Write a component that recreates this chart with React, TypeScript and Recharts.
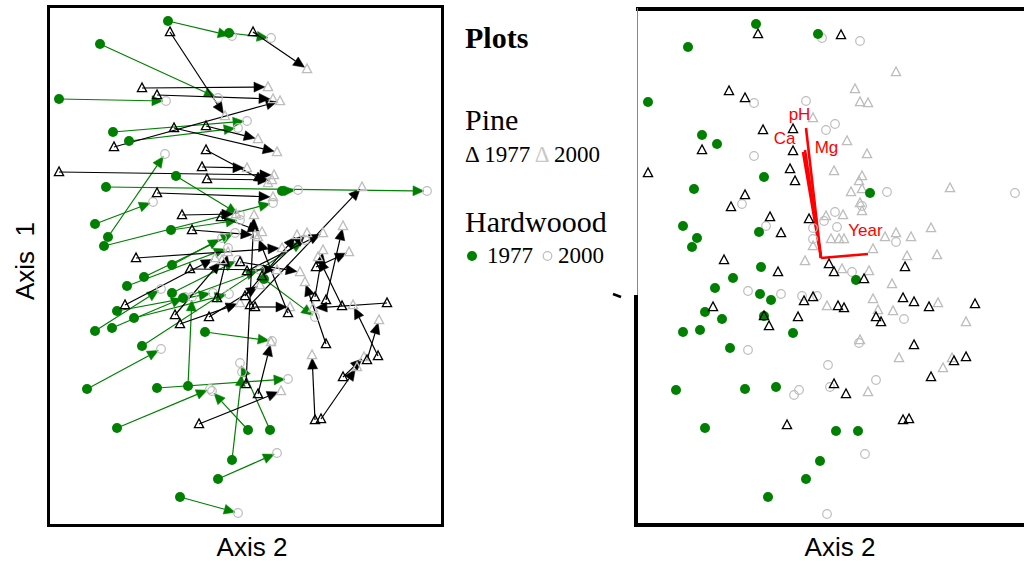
import React from 'react';
import { ScatterChart, Scatter, XAxis, YAxis, ReferenceLine, ReferenceDot } from 'recharts';

// ---------- Left panel: plot scores, 1977 -> 2000 (Axis 2, Axis 1) ----------
const pine1977Left: [number, number][] = [[-0.75,2.33],[0.08,2.33],[-1.03,1.77],[-0.88,1.70],[-1.31,1.18],[-0.71,1.37],[-0.39,1.39],[-1.86,0.93],[-0.43,0.98],[-0.39,1.15],[-0.38,0.86],[-0.88,0.72],[-0.63,0.50],[-0.24,0.48],[-0.53,0.35],[-1.09,0.07],[-0.55,-0.04],[-0.05,0.03],[-1.20,-0.40],[-0.70,-0.50],[-0.65,-0.59],[-0.36,-0.52],[0.01,-1.19],[-0.46,-1.59],[0.13,-1.29],[-0.28,-0.33],[0.10,-0.42],[0.81,-0.35],[0.70,-0.32],[0.97,-0.41],[1.42,-0.38],[1.33,-0.91],[1.22,-0.95],[0.81,-0.79],[0.98,-1.12],[0.70,-1.55],[0.76,-1.54],[0.05,-0.40],[0.02,-0.06],[0.17,-0.11],[0.00,-0.31],[0.43,-0.48],[0.71,-0.02]];
const pine2000Left: [number, number][] = [[-0.20,1.49],[0.62,1.96],[0.23,1.78],[0.28,1.66],[0.35,1.64],[0.32,1.13],[0.13,1.26],[0.29,0.90],[0.02,0.97],[0.23,0.82],[0.27,0.85],[0.28,0.68],[-0.09,0.51],[0.17,0.33],[0.10,0.30],[0.37,0.17],[0.32,-0.05],[0.55,-0.07],[-0.30,0.07],[-0.23,0.05],[-0.05,-0.38],[0.15,-0.20],[0.09,0.50],[0.36,-1.26],[0.26,-0.77],[-0.17,0.13],[0.45,-0.42],[0.98,0.39],[0.78,0.15],[0.73,0.08],[0.68,-0.43],[1.08,-0.40],[1.34,-0.55],[0.60,-0.17],[1.19,-0.92],[0.67,-0.90],[1.12,-1.02],[1.17,0.78],[0.78,0.32],[0.62,0.32],[0.52,0.30],[0.13,0.28],[1.04,0.13]];
const hard1977Left: [number, number][] = [[-0.77,2.44],[-0.16,2.32],[-1.45,2.21],[-1.86,1.66],[-1.32,1.33],[-1.16,1.24],[-1.37,0.28],[-0.69,0.89],[-1.39,0.78],[0.37,0.74],[-1.50,0.41],[-1.41,0.19],[-0.74,0.35],[-0.73,0.00],[-1.18,-0.21],[-1.01,-0.12],[-0.73,-0.28],[-0.62,-0.33],[-1.28,-0.46],[-1.11,-0.53],[-1.50,-0.66],[-1.33,-0.63],[-1.03,-0.81],[-0.40,-0.67],[-1.58,-1.24],[-0.88,-1.23],[-0.57,-1.21],[-1.28,-1.63],[0.03,-1.65],[0.25,-1.65],[-0.13,-1.95],[-0.27,-2.14],[-0.65,-2.32],[0.19,-0.14]];
const hard2000Left: [number, number][] = [[-0.13,2.29],[0.26,2.27],[-0.27,1.67],[-0.79,1.64],[0.02,1.44],[-0.07,1.37],[-0.80,1.11],[-0.05,0.50],[1.82,0.74],[0.53,0.75],[-0.92,0.63],[0.28,0.62],[-0.05,0.45],[-0.23,0.27],[-0.17,0.17],[-0.10,0.32],[-0.07,0.05],[0.15,-0.05],[-0.32,-0.28],[-0.16,-0.29],[-0.84,-0.24],[-0.60,-0.32],[0.60,0.25],[0.27,-0.76],[-0.84,-0.84],[0.43,-1.14],[-0.53,-0.32],[-0.35,-1.24],[-0.33,-1.26],[-0.05,-0.98],[-0.03,-1.07],[0.32,-1.88],[-0.07,-2.48],[0.70,-0.52]];

// ---------- Right panel: ordination with environmental vectors ----------
const pine1977Right: [number, number][] = [[-0.72,2.31],[0.11,2.30],[-1.01,1.74],[-0.85,1.67],[-0.67,1.35],[-0.37,1.36],[-1.28,1.15],[-0.37,1.14],[-1.82,0.92],[-0.40,0.96],[-0.35,0.84],[-0.85,0.70],[-0.99,0.58],[-0.60,0.48],[-0.21,0.46],[-0.49,0.32],[-1.06,0.05],[-0.52,-0.07],[-0.01,0.01],[0.04,-0.07],[0.75,-0.02],[0.34,-0.14],[-1.17,-0.42],[-0.66,-0.51],[-0.61,-0.61],[-0.32,-0.52],[-0.26,-0.36],[-0.17,-0.32],[0.08,-0.41],[0.14,-0.43],[0.46,-0.52],[0.51,-0.57],[0.73,-0.33],[0.84,-0.37],[0.99,-0.42],[1.45,-0.39],[0.84,-0.80],[1.36,-0.92],[1.24,-0.96],[1.01,-1.12],[0.04,-1.19],[0.16,-1.29],[-0.43,-1.60],[0.73,-1.55],[0.79,-1.54]];
const pine2000Right: [number, number][] = [[0.66,1.93],[0.25,1.76],[0.30,1.63],[0.38,1.62],[-0.17,1.47],[0.17,1.24],[0.37,1.11],[0.04,0.94],[0.32,0.89],[0.29,0.84],[0.21,0.73],[0.32,0.76],[1.20,0.77],[0.30,0.62],[0.32,0.54],[-0.04,0.49],[0.13,0.50],[0.01,0.26],[0.09,0.26],[0.14,0.26],[0.55,0.28],[0.66,0.32],[0.81,0.28],[1.01,0.37],[0.43,0.16],[0.77,0.09],[1.07,0.10],[-0.25,0.04],[0.12,-0.04],[0.39,-0.06],[-0.17,0.19],[0.62,-0.19],[-0.03,-0.41],[0.43,-0.34],[0.48,-0.45],[0.63,-0.46],[1.08,-0.38],[1.36,-0.57],[0.30,-0.75],[0.69,-0.93],[1.22,-0.93],[1.13,-1.03],[0.38,-1.27]];
const hard1977Right: [number, number][] = [[-0.74,2.41],[-0.12,2.31],[-1.42,2.18],[-1.82,1.63],[-1.28,1.30],[-1.13,1.21],[-0.66,0.88],[-1.36,0.76],[0.40,0.72],[-1.47,0.39],[-1.33,0.27],[-1.38,0.18],[-0.71,0.33],[-0.69,-0.02],[-0.97,-0.13],[0.26,-0.15],[-1.15,-0.23],[-0.70,-0.29],[-0.59,-0.35],[-1.25,-0.47],[-1.08,-0.54],[-0.66,-0.51],[-1.47,-0.67],[-1.30,-0.65],[-0.37,-0.68],[-1.00,-0.83],[-1.54,-1.25],[-0.85,-1.24],[-0.54,-1.22],[-1.25,-1.63],[0.06,-1.66],[0.28,-1.66],[-0.10,-1.96],[-0.24,-2.14],[-0.62,-2.32]];
const hard2000Right: [number, number][] = [[-0.08,2.27],[0.30,2.24],[-0.76,1.62],[-0.24,1.64],[0.05,1.41],[-0.04,1.35],[-0.76,1.09],[0.57,0.73],[1.85,0.72],[0.32,0.59],[-0.88,0.61],[0.05,0.53],[-0.06,0.44],[0.07,0.38],[-0.64,0.39],[-0.17,0.37],[-0.17,0.26],[0.66,0.23],[0.22,-0.07],[-0.82,-0.26],[-0.49,-0.29],[-0.28,-0.31],[-0.13,-0.31],[0.74,-0.54],[-0.82,-0.85],[0.29,-0.78],[-0.02,-1.00],[0.46,-1.15],[0.00,-1.22],[-0.31,-1.25],[-0.36,-1.30],[0.35,-1.89],[-0.03,-2.49]];

const vectorNames = ['pH', 'Ca', 'Mg', 'Year'];
const vectorOrigin: [number, number] = [-0.09, 0.07];
const vectorTips: [number, number][] = [[-0.24, 1.37], [-0.27, 1.13], [-0.25, 1.15], [0.38, 0.11]];
const vectorLabelAt: [number, number][] = [[-0.305, 1.505], [-0.455, 1.27], [-0.035, 1.18], [0.355, 0.35]];

const GREEN = '#008000';
const GRAY = '#bdbdbd';

const toPts = (a: [number, number][]) => a.map(([x, y]) => ({ x, y }));

const dotShape = (p: any) => <circle cx={p.cx} cy={p.cy} r={5} fill={GREEN} />;
const ringShape = (p: any) => <circle cx={p.cx} cy={p.cy} r={4.3} fill="none" stroke={GRAY} strokeWidth={1.2} />;
const triShape = (color: string) => (p: any) => (
  <polygon
    points={`${p.cx},${p.cy - 5} ${p.cx - 4.6},${p.cy + 3.6} ${p.cx + 4.6},${p.cy + 3.6}`}
    fill="none"
    stroke={color}
    strokeWidth={1.3}
  />
);

const arrowShape = (color: string) => (p: any) => {
  const { x1, y1, x2, y2 } = p;
  const dx = x2 - x1;
  const dy = y2 - y1;
  const len = Math.hypot(dx, dy) || 1;
  const ux = dx / len;
  const uy = dy / len;
  const tx = x2 - ux * 3;
  const ty = y2 - uy * 3;
  const hl = 11;
  const hw = 5;
  const bx = tx - ux * hl;
  const by = ty - uy * hl;
  const pts = `${tx},${ty} ${bx - uy * hw},${by + ux * hw} ${bx + uy * hw},${by - ux * hw}`;
  return (
    <g>
      <line x1={x1} y1={y1} x2={bx} y2={by} stroke={color} strokeWidth={1.2} />
      <polygon points={pts} fill={color} stroke={color} strokeWidth={0.5} />
    </g>
  );
};

const redLine = (p: any) => (
  <line x1={p.x1} y1={p.y1} x2={p.x2} y2={p.y2} stroke="#ff0000" strokeWidth={2.6} />
);

const labelShape = (text: string) => (p: any) => (
  <text x={p.cx} y={p.cy} textAnchor="middle" dominantBaseline="central" fill="#ff0000" fontSize={17} fontFamily="Liberation Sans, Arial, sans-serif">
    {text}
  </text>
);

const LeftPanel = () => (
  <ScatterChart width={396} height={515} margin={{ top: 0, right: 0, bottom: 0, left: 0 }}>
    <XAxis type="number" dataKey="x" domain={[-1.98, 1.98]} hide allowDataOverflow />
    <YAxis type="number" dataKey="y" domain={[-2.58, 2.57]} hide allowDataOverflow />
    <Scatter data={toPts(hard2000Left)} shape={ringShape} isAnimationActive={false} />
    <Scatter data={toPts(pine2000Left)} shape={triShape(GRAY)} isAnimationActive={false} />
    {hard1977Left.map((s, i) => (
      <ReferenceLine
        key={'h' + i}
        segment={[{ x: s[0], y: s[1] }, { x: hard2000Left[i][0], y: hard2000Left[i][1] }]}
        shape={arrowShape(GREEN)}
        ifOverflow="visible"
      />
    ))}
    {pine1977Left.map((s, i) => (
      <ReferenceLine
        key={'p' + i}
        segment={[{ x: s[0], y: s[1] }, { x: pine2000Left[i][0], y: pine2000Left[i][1] }]}
        shape={arrowShape('#000')}
        ifOverflow="visible"
      />
    ))}
    <Scatter data={toPts(hard1977Left)} shape={dotShape} isAnimationActive={false} />
    <Scatter data={toPts(pine1977Left)} shape={triShape('#000')} isAnimationActive={false} />
  </ScatterChart>
);

const RightPanel = () => (
  <ScatterChart width={413} height={513} margin={{ top: 0, right: 0, bottom: 0, left: 0 }}>
    <XAxis type="number" dataKey="x" domain={[-1.93, 2.2]} hide allowDataOverflow />
    <YAxis type="number" dataKey="y" domain={[-2.58, 2.55]} hide allowDataOverflow />
    <Scatter data={toPts(hard2000Right)} shape={ringShape} isAnimationActive={false} />
    <Scatter data={toPts(pine2000Right)} shape={triShape(GRAY)} isAnimationActive={false} />
    <Scatter data={toPts(hard1977Right)} shape={dotShape} isAnimationActive={false} />
    <Scatter data={toPts(pine1977Right)} shape={triShape('#000')} isAnimationActive={false} />
    {vectorTips.map((t, i) => (
      <ReferenceLine
        key={'v' + i}
        segment={[{ x: vectorOrigin[0], y: vectorOrigin[1] }, { x: t[0], y: t[1] }]}
        shape={redLine}
        ifOverflow="visible"
      />
    ))}
    {vectorLabelAt.map((l, i) => (
      <ReferenceDot key={'l' + i} x={l[0]} y={l[1]} r={0} shape={labelShape(vectorNames[i])} ifOverflow="visible" />
    ))}
  </ScatterChart>
);

const serif = 'Liberation Serif, Times New Roman, serif';
const sans = 'Liberation Sans, Arial, sans-serif';

export default function App() {
  return (
    <div style={{ position: 'absolute', left: 0, top: 0, width: 1024, height: 561, overflow: 'hidden', background: '#fff' }}>
      <svg width={1024} height={561} style={{ position: 'absolute', left: 0, top: 0 }}>
        <text x={465} y={48} fontFamily={serif} fontSize={30} fontWeight="bold">Plots</text>
        <text x={465} y={130} fontFamily={serif} fontSize={30}>Pine</text>
        <text x={465} y={162} fontFamily={serif} fontSize={23}>
          <tspan>Δ 1977 </tspan>
          <tspan fill="#c8c8c8">Δ</tspan>
          <tspan> 2000</tspan>
        </text>
        <text x={465} y={232} fontFamily={serif} fontSize={30}>Hardwoood</text>
        <circle cx={472} cy={256} r={5} fill={GREEN} />
        <text x={487} y={263} fontFamily={serif} fontSize={23}>1977</text>
        <circle cx={547.5} cy={256} r={4.3} fill="none" stroke={GRAY} strokeWidth={1.2} />
        <text x={558} y={263} fontFamily={serif} fontSize={23}>2000</text>
        <line x1={613} y1={294} x2={621} y2={297} stroke="#000" strokeWidth={2.5} />
        <text x={252} y={556} textAnchor="middle" fontFamily={sans} fontSize={26}>Axis 2</text>
        <text x={840} y={556} textAnchor="middle" fontFamily={sans} fontSize={26}>Axis 2</text>
        <text x={0} y={0} transform="translate(34,261) rotate(-90)" textAnchor="middle" fontFamily={sans} fontSize={26} style={{ whiteSpace: 'pre' }}>
          {'Axis  1'}
        </text>
      </svg>
      <div style={{ position: 'absolute', left: 47, top: 8 }}>
        <LeftPanel />
      </div>
      <div style={{ position: 'absolute', left: 637, top: 10 }}>
        <RightPanel />
      </div>
      {/* frames */}
      <div style={{ position: 'absolute', left: 47, top: 5, width: 397, height: 522, border: '3px solid #000', boxSizing: 'border-box', pointerEvents: 'none' }} />
      <div style={{ position: 'absolute', left: 636, top: 7, width: 400, height: 4, background: '#000' }} />
      <div style={{ position: 'absolute', left: 637, top: 8, width: 1, height: 290, background: '#888' }} />
      <div style={{ position: 'absolute', left: 634, top: 295, width: 4, height: 232, background: '#000' }} />
      <div style={{ position: 'absolute', left: 634, top: 523, width: 400, height: 4, background: '#000' }} />
    </div>
  );
}
